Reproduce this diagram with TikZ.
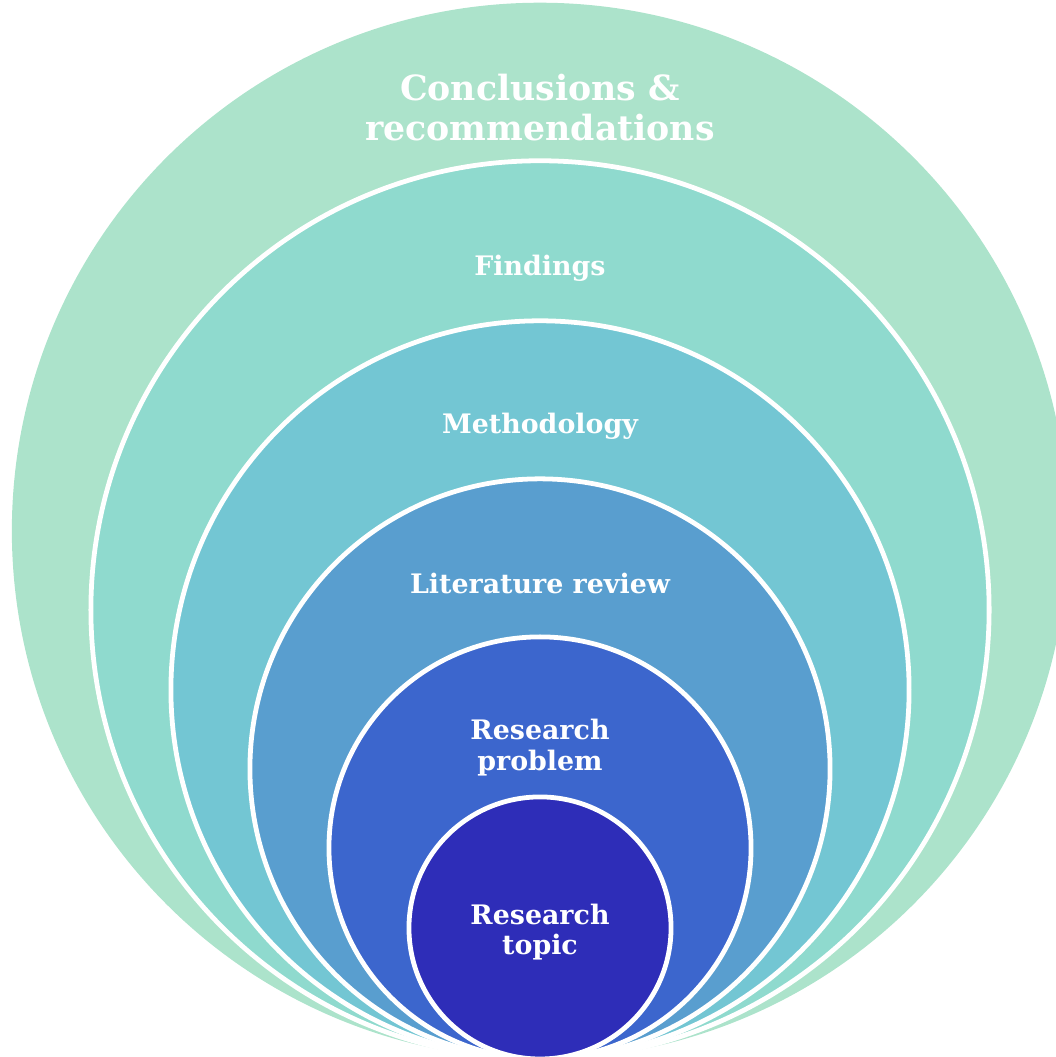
\documentclass[tikz,border=0pt]{standalone}
\usepackage{fontspec}
\setmainfont{DejaVu Serif}
\usetikzlibrary{positioning}

\definecolor{conclcol}{HTML}{ACE3CB}
\definecolor{findcol}{HTML}{8FDACE}
\definecolor{methcol}{HTML}{73C6D3}
\definecolor{litcol}{HTML}{599ECF}
\definecolor{probcol}{HTML}{3C66CD}
\definecolor{topiccol}{HTML}{2E2DB8}

\begin{document}
\begin{tikzpicture}[
    x=0.025cm, y=0.025cm,
    ring/.style={circle, draw=white, line width=3.4pt, inner sep=0pt, outer sep=0pt, anchor=south},
    lbl/.style={text=white, inner sep=0pt, align=center, font=\bfseries\fontsize{19.1}{21.8}\selectfont},
    biglbl/.style={lbl, font=\bfseries\fontsize{24.7}{28.5}\selectfont},
    ]
    \useasboundingbox (0,0) rectangle (1056,1057);
    \coordinate (base) at (540,-2);

    % nested circles, all touching at the bottom
    \node[ring, draw=none, fill=conclcol, minimum size=26.4cm]  (concl) at (base) {};
    \node[ring, fill=findcol,  minimum size=22.45cm] (find)  at (base) {};
    \node[ring, fill=methcol,  minimum size=18.45cm] (meth)  at (base) {};
    \node[ring, fill=litcol,   minimum size=14.5cm]  (lit)   at (base) {};
    \node[ring, fill=probcol,  minimum size=10.55cm] (prob)  at (base) {};
    \node[ring, fill=topiccol, minimum size=6.55cm]  (topic) at (base) {};

    % labels
    \node[biglbl, below=2.625cm of concl.north, anchor=center] (t_concl) {Conclusions \&\\recommendations};
    \node[lbl, below=2.68cm of find.north,  anchor=center] (t_find)  {Findings};
    \node[lbl, below=2.63cm of meth.north,  anchor=center] (t_meth)  {Methodology};
    \node[lbl, below=2.61cm of lit.north,   anchor=center] (t_lit)   {Literature review};
    \node[lbl, below=2.76cm of prob.north,  anchor=center] (t_prob)  {Research\\problem};
    \node[lbl, below=3.38cm of topic.north, anchor=center] (t_topic) {Research\\topic};
\end{tikzpicture}
\end{document}
